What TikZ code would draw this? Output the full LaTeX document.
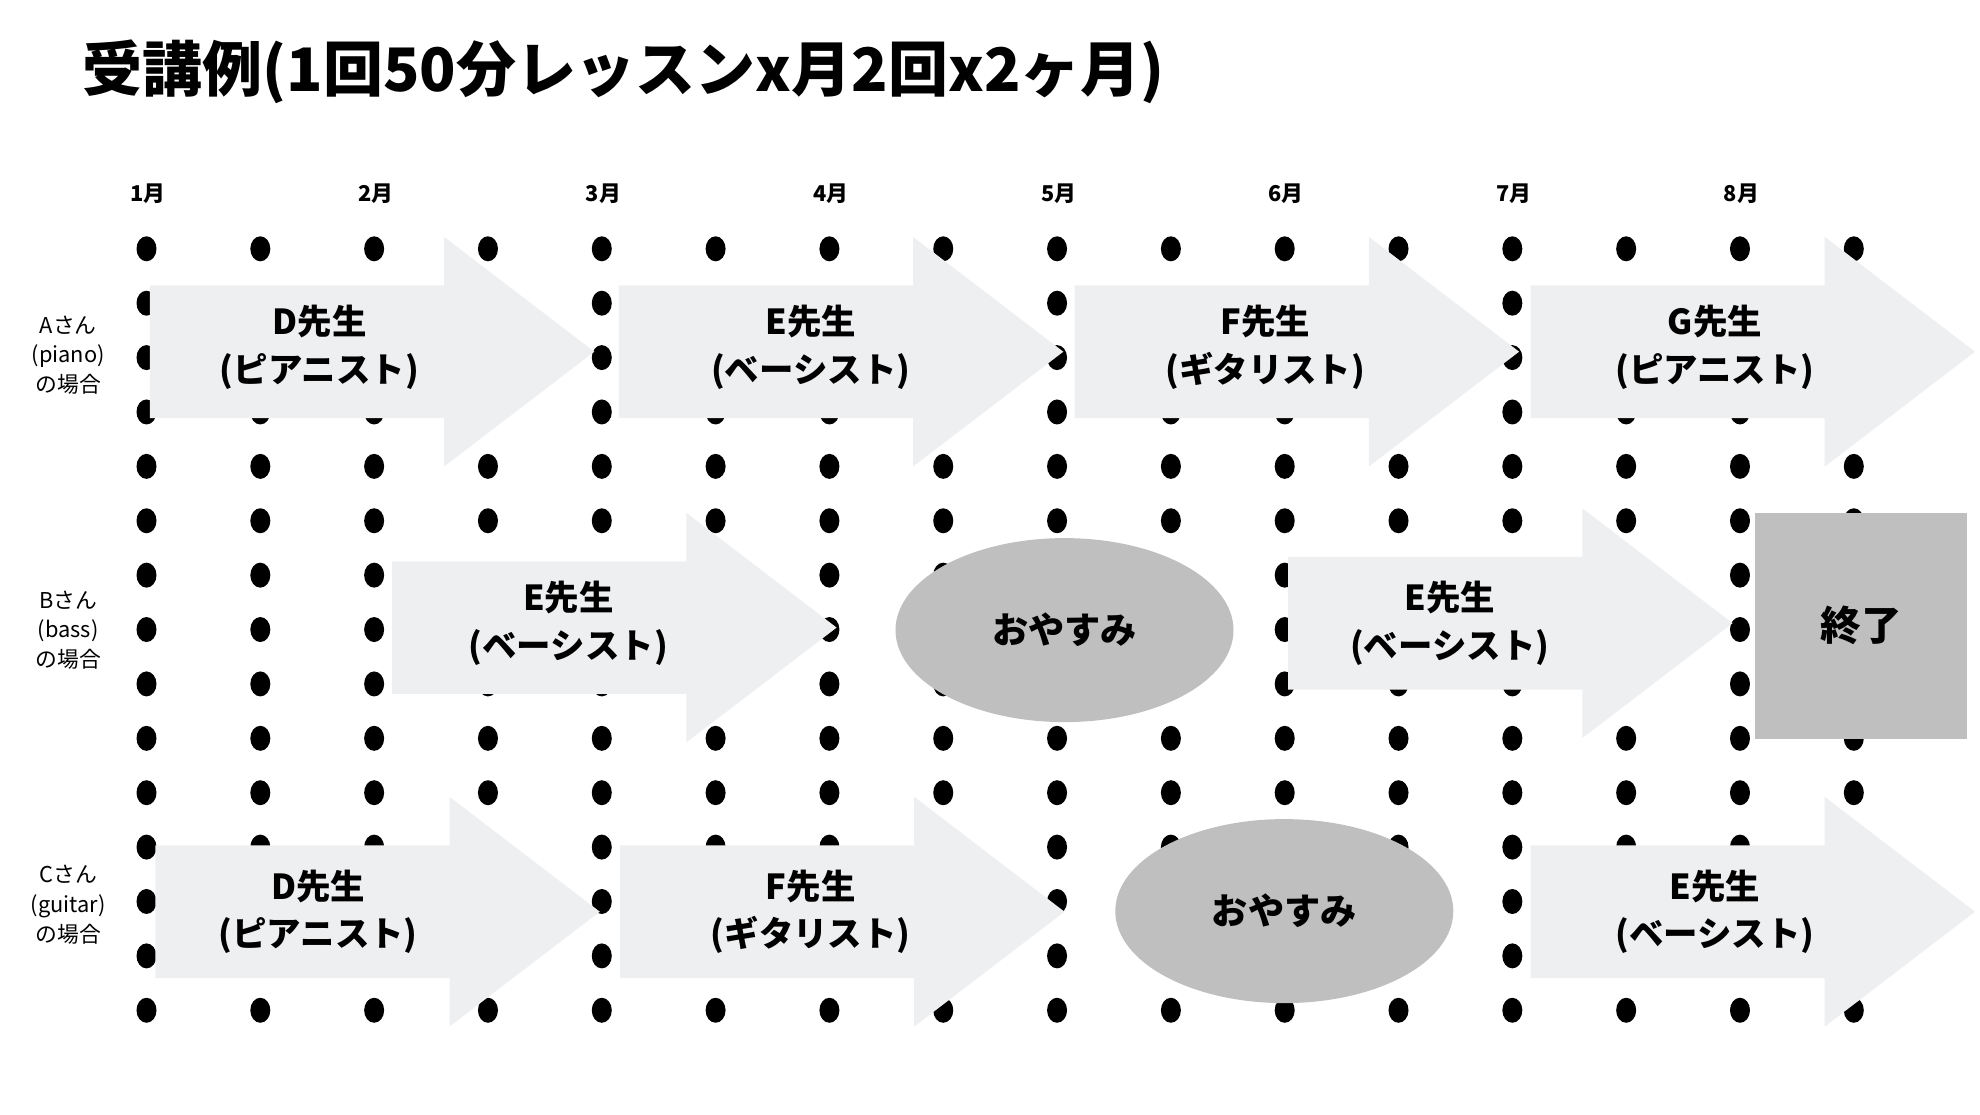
\documentclass[tikz,border=0pt]{standalone}
\usepackage{fontspec}
\setmainfont{Noto Sans CJK JP}
\usetikzlibrary{shapes.geometric}

\definecolor{arrowgray}{RGB}{238,239,241}
\definecolor{restgray}{RGB}{191,191,191}

\tikzset{
  pegdot/.style={fill=black},
  lessonfill/.style={fill=arrowgray},
  lessontext/.style={align=center, inner sep=0pt, font=\bfseries\fontsize{9.8}{13.6}\selectfont},
  restshape/.style={ellipse, fill=restgray, inner sep=0pt, minimum width=3.38cm, minimum height=1.84cm, font=\bfseries\fontsize{10.3}{12}\selectfont},
  endshape/.style={rectangle, fill=restgray, inner sep=0pt, minimum width=2.12cm, minimum height=2.26cm, font=\bfseries\fontsize{11.5}{13}\selectfont},
  monthtext/.style={inner sep=0pt, font=\bfseries\fontsize{6.2}{7}\selectfont},
  whotext/.style={align=center, inner sep=0pt, font=\fontsize{6.2}{8.4}\selectfont},
}

% arrow: start x, center y
\newcommand{\lessonarrow}[2]{%
  \fill[lessonfill] (#1,#2+0.663) -- (#1+2.942,#2+0.663) -- (#1+2.942,#2+1.149)
    -- (#1+4.445,#2) -- (#1+2.942,#2-1.149) -- (#1+2.942,#2-0.663) -- (#1,#2-0.663) -- cycle;}

\begin{document}
\begin{tikzpicture}
\useasboundingbox (0,0) rectangle (19.8,-11.14);

\node[anchor=west, inner sep=0pt, font=\bfseries\fontsize{17.06}{20}\selectfont] (title) at (0.82,-0.72) {受講例(1回50分レッスンx月2回x2ヶ月)};

%months
\foreach \m in {1,...,8}
  \node[monthtext] (month\m) at (1.48+2.2764*\m-2.2764,-1.932) {\m 月};

%dots
\foreach \i in {0,...,15}
  \foreach \j in {0,...,14}
    \fill[pegdot] (1.465+1.1382*\i,-2.488-0.5439*\j) ellipse (0.1 and 0.125);

%Case A
\begin{scope}[yshift=-3.517cm]
\node[whotext] (whoA) at (0.682,-0.032) {Aさん\\(piano)\\の場合};
\lessonarrow{1.498}{0}
\lessonarrow{6.188}{0}
\lessonarrow{10.746}{0}
\lessonarrow{15.305}{0}
\node[lessontext] (A1) at (3.195,0.044) {D先生\\(ピアニスト)};
\node[lessontext] (A2) at (8.107,0.044) {E先生\\(ベーシスト)};
\node[lessontext] (A3) at (12.653,0.044) {F先生\\(ギタリスト)};
\node[lessontext] (A4) at (17.149,0.044) {G先生\\(ピアニスト)};
\end{scope}

%Case B
\begin{scope}[yshift=-6.276cm]
\node[whotext] (whoB) at (0.682,-0.025) {Bさん\\(bass)\\の場合};
\lessonarrow{3.921}{0}
\lessonarrow{12.881}{0.044}
\node[lessontext] (B1) at (5.683,0.044) {E先生\\(ベーシスト)};
\node[restshape] (restB) at (10.645,-0.025) {おやすみ};
\node[lessontext] (B2) at (14.497,0.044) {E先生\\(ベーシスト)};
\node[endshape] (endB) at (18.613,0.019) {終了};
\end{scope}

%Case C
\begin{scope}[yshift=-9.117cm]
\node[whotext] (whoC) at (0.682,0.07) {Cさん\\(guitar)\\の場合};
\lessonarrow{1.553}{0}
\lessonarrow{6.200}{0}
\lessonarrow{15.305}{0}
\node[lessontext] (C1) at (3.182,0) {D先生\\(ピアニスト)};
\node[lessontext] (C2) at (8.107,0) {F先生\\(ギタリスト)};
\node[restshape] (restC) at (12.843,0.006) {おやすみ};
\node[lessontext] (C3) at (17.149,0) {E先生\\(ベーシスト)};
\end{scope}

\end{tikzpicture}
\end{document}
